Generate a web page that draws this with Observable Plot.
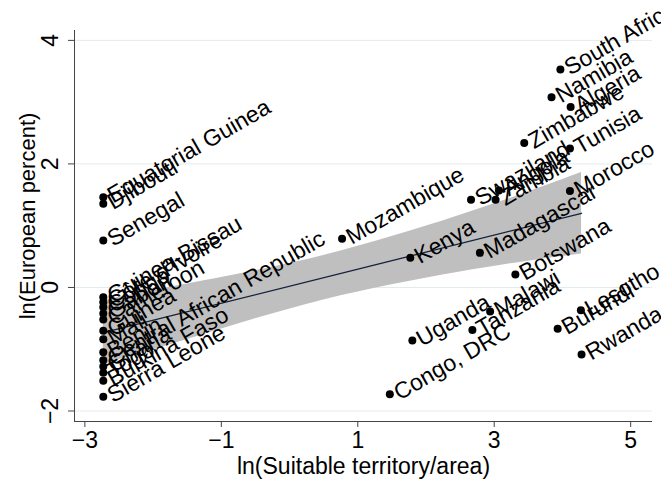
<!DOCTYPE html>
<html><head><meta charset="utf-8">
<script src="https://cdn.jsdelivr.net/npm/d3@7"></script>
<script src="https://cdn.jsdelivr.net/npm/@observablehq/plot@0.6"></script>
<style>html,body{margin:0;padding:0;background:#fff;overflow:hidden}</style>
</head><body><div id="chart"></div>
<script>
const countries = ["South Africa","Namibia","Algeria","Zimbabwe","Tunisia","Swaziland","Zambia","Angola","Morocco","Mozambique","Kenya","Madagascar","Botswana","Uganda","Congo, DRC","Tanzania","Malawi","Lesotho","Burundi","Rwanda","Equatorial Guinea","Djibouti","Senegal","Guinea-Bissau","Côte d'Ivoire","Congo","Gabon","Cameroon","Guinea","Mali","Benin","Central African Republic","Ghana","Togo","Burkina Faso","Sierra Leone"];
const suitable = [3.97,3.84,4.12,3.44,4.11,2.66,3.02,3.07,4.11,0.77,1.77,2.79,3.31,1.80,1.47,2.68,2.94,4.27,3.93,4.28,-2.73,-2.73,-2.73,-2.73,-2.73,-2.73,-2.73,-2.73,-2.73,-2.73,-2.73,-2.73,-2.73,-2.73,-2.73,-2.73];
const european = [3.53,3.08,2.92,2.34,2.25,1.42,1.42,1.57,1.56,0.79,0.48,0.56,0.21,-0.86,-1.73,-0.69,-0.39,-0.37,-0.67,-1.085,1.46,1.355,0.76,-0.16,-0.24,-0.32,-0.42,-0.52,-0.70,-0.84,-1.05,-1.18,-1.28,-1.38,-1.51,-1.77];

// fitted line and 95% CI band
const fitX = [-2.73, 4.28];
const fitY = [-0.733, 1.201];
const bandX = [-2.73, -1.5, -0.5, 0.5, 1.5, 2.5, 3.5, 4.28];
const bandLo = [-1.25, -0.844, -0.508, -0.202, 0.044, 0.25, 0.426, 0.541];
const bandHi = [-0.21, 0.056, 0.272, 0.518, 0.824, 1.17, 1.546, 1.861];

const xTicks = [-3,-1,1,3,5];
const yTicks = [-2,0,2,4];
const xTitle = "ln(Suitable territory/area)";
const yTitle = "ln(European percent)";

const data = countries.map((c,i)=>({country:c, x:suitable[i], y:european[i]}));
const band = bandX.map((x,i)=>({x, lo:bandLo[i], hi:bandHi[i]}));
const fit = fitX.map((x,i)=>({x, y:fitY[i]}));
const font = "'Liberation Sans', Arial, Helvetica, sans-serif";
const xDomain = [-3.152, 5.32], yDomain = [-2.17, 4.16];
const fmt = d => d < 0 ? "\u2212" + (-d) : String(d);

const chart = Plot.plot({
  width: 661, height: 483,
  marginLeft: 74, marginRight: 9, marginTop: 30, marginBottom: 62,
  style: {fontFamily: font, background: "#fff", color: "#000"},
  x: {domain: xDomain}, y: {domain: yDomain},
  marks: [
    Plot.gridY({ticks: yTicks, stroke: "#e2ebed", strokeOpacity: 1}),
    Plot.areaY(band, {x: "x", y1: "lo", y2: "hi", fill: "#bfbfbf", fillOpacity: 1, curve: "natural"}),
    Plot.line(fit, {x: "x", y: "y", stroke: "#14213a", strokeWidth: 1.3}),
    Plot.ruleX([xDomain[0]], {stroke: "#444"}),
    Plot.ruleY([yDomain[0]], {stroke: "#444"}),
    Plot.axisX({ticks: xTicks, tickSize: 6, tickPadding: 4, fontSize: 23, tickFormat: fmt, label: null, stroke: "#444"}),
    Plot.axisY({ticks: yTicks, tickSize: 6, tickFormat: () => "", label: null, stroke: "#444"}),
    Plot.text(yTicks, {y: d => d, text: fmt, frameAnchor: "left", dx: -24, rotate: -90, fontSize: 23, textAnchor: "middle", lineAnchor: "middle"}),
    Plot.text([xTitle], {frameAnchor: "bottom", dy: 45, fontSize: 23, textAnchor: "middle", lineAnchor: "middle"}),
    Plot.text([yTitle], {frameAnchor: "left", dx: -47, dy: -10, rotate: -90, fontSize: 22, textAnchor: "middle", lineAnchor: "middle"}),
    Plot.dot(data, {x: "x", y: "y", r: 4, fill: "#000"}),
    Plot.text(data, {x: "x", y: "y", text: "country", rotate: -30, textAnchor: "start", lineAnchor: "middle", dx: 6, fontSize: 23, fill: "#000"})
  ]
});
document.getElementById("chart").appendChild(chart);
</script>
</body></html>
